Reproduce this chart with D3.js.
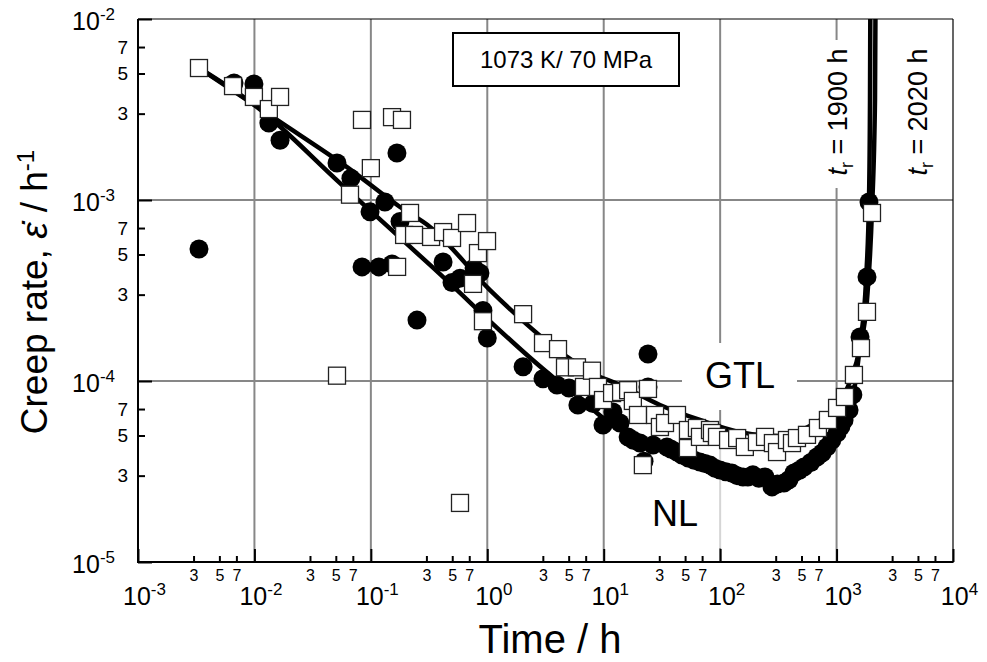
<!DOCTYPE html>
<html>
<head>
<meta charset="utf-8">
<script src="https://cdn.jsdelivr.net/npm/d3@7"></script>
<style>
  body { margin: 0; background: #fff; }
  text { font-family: "Liberation Sans", Arial, Helvetica, sans-serif; fill: #000; }
</style>
</head>
<body>
<svg width="987" height="662"></svg>
<script>
'use strict'

// NL specimen, filled circles (time in h, creep rate in 1/h)
const nlTime = [0.00334, 0.00668, 0.0099, 0.0133, 0.0166, 0.0512, 0.0674, 0.084, 0.0984, 0.117,
    0.132, 0.152, 0.1675, 0.178, 0.249, 0.417, 0.498, 0.583, 0.77, 0.865,
    0.918, 1.0, 2.03, 3.01, 3.97, 5.03, 6.0, 8.1, 9.86, 12.0,
    13.8, 16.2, 18, 20.5, 22.2, 24.0, 24.0, 26.5, 34.9, 38,
    42.6, 47, 52.9, 60, 67.1, 74, 81.8, 90, 99.7, 112,
    126, 140, 157, 173, 191, 215, 243, 279, 310, 353,
    390, 430, 475, 525, 600, 679, 750, 827, 910, 1010,
    1090, 1160, 1280, 1380, 1590, 1825, 1898];
const nlRate = [5.36e-4, 4.43e-3, 4.37e-3, 2.66e-3, 2.14e-3, 1.60e-3, 1.32e-3, 4.27e-4, 8.6e-4, 4.27e-4,
    9.75e-4, 4.43e-4, 1.82e-3, 7.6e-4, 2.17e-4, 4.54e-4, 3.5e-4, 3.7e-4, 4.21e-4, 3.95e-4,
    2.45e-4, 1.73e-4, 1.2e-4, 1.03e-4, 9.5e-5, 9.15e-5, 7.37e-5, 7.5e-5, 5.71e-5, 6.74e-5,
    5.86e-5, 4.91e-5, 4.7e-5, 4.54e-5, 3.6e-5, 1.41e-4, 9.27e-5, 4.43e-5, 4.32e-5, 4.2e-5,
    4.05e-5, 3.9e-5, 3.76e-5, 3.65e-5, 3.57e-5, 3.5e-5, 3.43e-5, 3.3e-5, 3.22e-5, 3.15e-5,
    3.10e-5, 3.0e-5, 2.95e-5, 2.95e-5, 3.03e-5, 2.9e-5, 2.95e-5, 2.60e-5, 2.7e-5, 2.73e-5,
    2.85e-5, 3.10e-5, 3.2e-5, 3.35e-5, 3.55e-5, 3.80e-5, 4.0e-5, 4.32e-5, 4.7e-5, 5.16e-5,
    5.6e-5, 6.09e-5, 6.92e-5, 8.4e-5, 1.75e-4, 3.76e-4, 9.75e-4];

// GTL specimen, open squares
const gtlTime = [0.00334, 0.00655, 0.0099, 0.0133, 0.0166, 0.0512, 0.0662, 0.0839, 0.100, 0.152,
    0.168, 0.185, 0.193, 0.217, 0.235, 0.329, 0.417, 0.498, 0.583, 0.670,
    0.754, 0.832, 0.918, 0.995, 2.03, 3.01, 4.05, 4.65, 5.89, 6.77,
    7.93, 8.93, 9.86, 11.8, 14.1, 16.2, 17.8, 19.7, 21.7, 24.0,
    27.6, 30.4, 33.6, 42.6, 52.9, 52.9, 63.2, 67.1, 81.8, 85,
    94, 117, 140, 163, 207, 243, 284, 308, 375, 414,
    457, 557, 692, 843, 1010, 1180, 1410, 1620, 1825, 2015];
const gtlRate = [5.36e-3, 4.26e-3, 3.71e-3, 3.18e-3, 3.71e-3, 1.07e-4, 1.07e-3, 2.77e-3, 1.50e-3, 2.87e-3,
    4.27e-4, 2.77e-3, 6.41e-4, 8.48e-4, 6.41e-4, 6.25e-4, 6.65e-4, 6.17e-4, 2.12e-5, 7.46e-4,
    3.44e-4, 5.09e-4, 2.14e-4, 5.93e-4, 2.34e-4, 1.62e-4, 1.50e-4, 1.19e-4, 1.19e-4, 9.27e-5,
    1.14e-4, 9.27e-5, 7.85e-5, 8.58e-5, 8.7e-5, 8.9e-5, 7.76e-5, 6.49e-5, 3.43e-5, 9.04e-5,
    6.49e-5, 5.57e-5, 5.86e-5, 6.49e-5, 4.26e-5, 5.36e-5, 5.5e-5, 4.91e-5, 5.36e-5, 5.16e-5,
    4.91e-5, 4.72e-5, 4.84e-5, 4.32e-5, 4.6e-5, 4.91e-5, 4.54e-5, 4.05e-5, 4.72e-5, 4.54e-5,
    4.84e-5, 5.04e-5, 5.5e-5, 6.09e-5, 7.1e-5, 8.16e-5, 1.08e-4, 1.52e-4, 2.41e-4, 8.48e-4];

// fitted curves
const nlFitTime = [0.00334, 0.0105, 0.0543, 0.322, 3.67, 6.26, 9.86, 20.5, 67.1, 180,
    327, 591, 968, 1300, 1590, 1790, 1898, 1937, 1950];
const nlFitRate = [5.36e-3, 3.27e-3, 1.24e-3, 4.38e-4, 1.05e-4, 8.05e-5, 6.25e-5, 4.72e-5, 3.76e-5, 3.06e-5,
    2.84e-5, 3.39e-5, 4.6e-5, 6.74e-5, 1.58e-4, 3.61e-4, 1e-3, 3.57e-3, 1.2e-2];
const gtlFitTime = [0.00334, 0.0166, 0.0624, 0.178, 0.322, 1.055, 4.84, 7.62, 13.8, 30.4,
    67.1, 148, 327, 591, 968, 1300, 1590, 1825, 2015, 2138, 2160];
const gtlFitRate = [5.36e-3, 2.70e-3, 1.52e-3, 9.15e-4, 7.1e-4, 3.18e-4, 1.36e-4, 1.12e-4, 9.5e-5, 7.37e-5,
    6.09e-5, 5.22e-5, 4.97e-5, 5.64e-5, 7.18e-5, 9.87e-5, 1.54e-4, 2.8e-4, 8.8e-4, 3.57e-3, 1.2e-2];

const xDecades = [1e-3, 1e-2, 1e-1, 1e0, 1e1, 1e2, 1e3, 1e4];
const yDecades = [1e-5, 1e-4, 1e-3, 1e-2];
const minorDigits = [3, 5, 7];

let svg = d3.select('svg');
let pLeft = 138, pRight = 953, pTop = 19, pBottom = 562;

let x = d3.scaleLog().domain([1e-3, 1e4]).range([pLeft, pRight]);
let y = d3.scaleLog().domain([1e-5, 1e-2]).range([pBottom, pTop]);

function expOf(d) {
    return Math.round(Math.log10(d));
}

function leadDigit(d) {
    return String(Math.round(d / Math.pow(10, Math.floor(Math.log10(d) + 1e-9))));
}

let xMinor = [], yMinor = [];
xDecades.slice(0, -1).forEach(function(d) {
    minorDigits.forEach(function(m) { xMinor.push(d * m) });
});
yDecades.slice(0, -1).forEach(function(d) {
    minorDigits.forEach(function(m) { yMinor.push(d * m) });
});

svg.append('defs').append('clipPath').attr('id', 'plotclip')
    .append('rect')
    .attr('x', pLeft).attr('y', pTop)
    .attr('width', pRight - pLeft).attr('height', pBottom - pTop);

// grid
let grid = svg.append('g').attr('stroke', '#878787').attr('stroke-width', 2);
grid.selectAll('.vg')
    .data(xDecades.slice(1, -1))
    .enter().append('line')
    .attr('x1', d => x(d)).attr('x2', d => x(d))
    .attr('y1', pTop).attr('y2', pBottom);
grid.selectAll('.hg')
    .data(yDecades.slice(1, -1))
    .enter().append('line')
    .attr('x1', pLeft).attr('x2', pRight)
    .attr('y1', d => y(d)).attr('y2', d => y(d));

// label backgrounds that break the grid
svg.append('rect').attr('x', 682).attr('y', 343).attr('width', 115).attr('height', 67).attr('fill', '#fff');
svg.append('rect').attr('x', 822).attr('y', 40).attr('width', 30).attr('height', 148).attr('fill', '#fff');
svg.append('rect').attr('x', 640).attr('y', 440).attr('width', 90).attr('height', 108)
    .attr('fill', '#fff').attr('opacity', 0.65);

// fitted lines
let line = d3.line()
    .x(d => x(d[0]))
    .y(d => y(d[1]))
    .curve(d3.curveMonotoneX);

let fits = svg.append('g').attr('clip-path', 'url(#plotclip)');
fits.append('path')
    .datum(d3.zip(nlFitTime, nlFitRate))
    .attr('d', line)
    .attr('fill', 'none').attr('stroke', '#000').attr('stroke-width', 4.5);
fits.append('path')
    .datum(d3.zip(gtlFitTime, gtlFitRate))
    .attr('d', line)
    .attr('fill', 'none').attr('stroke', '#000').attr('stroke-width', 4.5);

// NL circles
svg.append('g')
    .selectAll('circle')
    .data(d3.zip(nlTime, nlRate))
    .enter().append('circle')
    .attr('cx', d => x(d[0]))
    .attr('cy', d => y(d[1]))
    .attr('r', 9.5)
    .attr('fill', '#000');

// GTL squares
let sq = 17;
svg.append('g')
    .selectAll('rect')
    .data(d3.zip(gtlTime, gtlRate))
    .enter().append('rect')
    .attr('x', d => x(d[0]) - sq / 2)
    .attr('y', d => y(d[1]) - sq / 2)
    .attr('width', sq).attr('height', sq)
    .attr('fill', '#fff')
    .attr('stroke', '#222')
    .attr('stroke-width', 1.3);

// frame
svg.append('line').attr('x1', pLeft).attr('x2', pRight).attr('y1', pTop).attr('y2', pTop)
    .attr('stroke', '#000').attr('stroke-width', 1.2);
svg.append('line').attr('x1', pRight).attr('x2', pRight).attr('y1', pTop).attr('y2', pBottom)
    .attr('stroke', '#000').attr('stroke-width', 1.2);

// x axis: minor ticks 3 5 7, then decades with superscripts
let xMinorAxis = d3.axisBottom(x)
    .tickValues(xMinor)
    .tickSize(-6).tickSizeOuter(0).tickPadding(8)
    .tickFormat(leadDigit);
let gxm = svg.append('g').attr('transform', 'translate(0,' + pBottom + ')').call(xMinorAxis);
gxm.select('.domain').remove();
gxm.selectAll('text').attr('font-size', 16).attr('fill', '#000');
gxm.selectAll('line').attr('stroke-width', 2);

let xMajorAxis = d3.axisBottom(x)
    .tickValues(xDecades)
    .tickSize(-13).tickSizeOuter(0).tickPadding(25)
    .tickFormat('');
let gx = svg.append('g').attr('transform', 'translate(0,' + pBottom + ')').call(xMajorAxis);
gx.select('.domain').remove();
gx.selectAll('line').attr('stroke-width', 2);
gx.selectAll('.tick text')
    .attr('font-size', 25)
    .attr('fill', '#000')
    .attr('x', 6)
    .each(function(d) {
        let t = d3.select(this);
        t.append('tspan').text('10');
        t.append('tspan').attr('font-size', 17).attr('dy', -10).text(expOf(d));
    });

// y axis
let yMinorAxis = d3.axisLeft(y)
    .tickValues(yMinor)
    .tickSize(-7).tickSizeOuter(0).tickPadding(10)
    .tickFormat(leadDigit);
let gym = svg.append('g').attr('transform', 'translate(' + pLeft + ',0)').call(yMinorAxis);
gym.select('.domain').remove();
gym.selectAll('text').attr('font-size', 19).attr('fill', '#000');
gym.selectAll('line').attr('stroke-width', 2);

let yMajorAxis = d3.axisLeft(y)
    .tickValues(yDecades)
    .tickSize(-14).tickSizeOuter(0).tickPadding(23)
    .tickFormat('');
let gy = svg.append('g').attr('transform', 'translate(' + pLeft + ',0)').call(yMajorAxis);
gy.select('.domain').remove();
gy.selectAll('line').attr('stroke-width', 2);
gy.selectAll('.tick text')
    .attr('font-size', 25)
    .attr('fill', '#000')
    .attr('dy', '0.42em')
    .each(function(d) {
        let t = d3.select(this);
        t.append('tspan').text('10');
        t.append('tspan').attr('font-size', 17).attr('dy', -10).text(expOf(d));
    });

// left and bottom axis lines
svg.append('line').attr('x1', pLeft).attr('x2', pLeft).attr('y1', pTop).attr('y2', pBottom + 1)
    .attr('stroke', '#000').attr('stroke-width', 2);
svg.append('line').attr('x1', pLeft - 1).attr('x2', pRight + 0.6).attr('y1', pBottom).attr('y2', pBottom)
    .attr('stroke', '#000').attr('stroke-width', 2);

// axis titles
svg.append('text')
    .attr('x', 550).attr('y', 653)
    .attr('text-anchor', 'middle')
    .attr('font-size', 40)
    .text('Time / h');

let yt = svg.append('text')
    .attr('transform', 'translate(47,292) rotate(-90)')
    .attr('text-anchor', 'middle')
    .attr('font-size', 37);
yt.append('tspan').text('Creep rate, ');
yt.append('tspan').attr('font-style', 'italic').text('\u03B5\u0307');
yt.append('tspan').text(' / h');
yt.append('tspan').attr('font-size', 24).attr('dy', -13).text('-1');

// condition box
svg.append('rect')
    .attr('x', 453).attr('y', 33).attr('width', 226).attr('height', 53)
    .attr('fill', '#fff').attr('stroke', '#000').attr('stroke-width', 2);
svg.append('text')
    .attr('x', 566).attr('y', 68)
    .attr('text-anchor', 'middle')
    .attr('font-size', 24)
    .text('1073 K/ 70 MPa');

// series labels
svg.append('text').attr('x', 740).attr('y', 388).attr('text-anchor', 'middle')
    .attr('font-size', 36).text('GTL');
svg.append('text').attr('x', 675).attr('y', 526).attr('text-anchor', 'middle')
    .attr('font-size', 36).text('NL');

// rupture times
function rupture(xp, hours) {
    let t = svg.append('text')
        .attr('transform', 'translate(' + xp + ',112) rotate(-90)')
        .attr('text-anchor', 'middle')
        .attr('font-size', 27);
    t.append('tspan').attr('font-style', 'italic').text('t');
    t.append('tspan').attr('font-size', 18).attr('dy', 6).text('r');
    t.append('tspan').attr('dy', -6).text(' = ' + hours + ' h');
}
rupture(847, 1900);
rupture(927, 2020);
</script>
</body>
</html>
